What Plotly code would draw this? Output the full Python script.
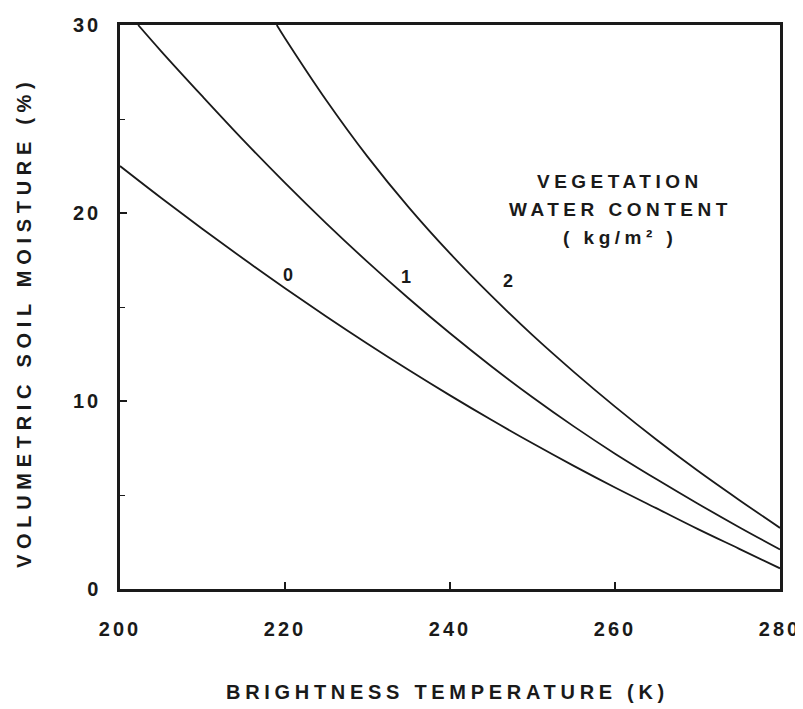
import plotly.graph_objects as go

# Brightness temperature (K) and volumetric soil moisture (%)
t_w0 = [200, 205, 210, 215, 220, 225, 230, 235, 240, 245, 250, 255, 260, 265, 270, 275, 280]
sm_w0 = [22.5, 20.8, 19.15, 17.55, 16.0, 14.5, 13.05, 11.65, 10.3, 9.0, 7.75, 6.55, 5.4, 4.3, 3.2, 2.15, 1.1]

t_w1 = [202.2, 205, 210, 215, 220, 225, 230, 235, 240, 245, 250, 255, 260, 265, 270, 275, 280]
sm_w1 = [30.0, 28.6, 26.2, 23.85, 21.6, 19.45, 17.4, 15.45, 13.6, 11.85, 10.2, 8.65, 7.2, 5.85, 4.55, 3.3, 2.1]

t_w2 = [219.0, 220, 225, 230, 235, 240, 245, 250, 255, 260, 265, 270, 275, 280]
sm_w2 = [30.0, 29.3, 26.0, 23.0, 20.3, 17.85, 15.6, 13.5, 11.55, 9.7, 7.95, 6.3, 4.75, 3.25]

curve_labels = ["0", "1", "2"]
label_t = [220.4, 234.7, 247.0]
label_sm = [16.7, 16.6, 16.4]

x_ticks = [200, 220, 240, 260, 280]
x_tick_text = ["200", "220", "240", "260", "280"]
y_ticks = [0, 10, 20, 30]
y_tick_text = ["0", "10", "20", "30"]

x_title = "BRIGHTNESS TEMPERATURE (K)"
y_title = "VOLUMETRIC SOIL MOISTURE (%)"
legend_lines = ["VEGETATION", "WATER CONTENT", "( kg/m² )"]

FONT = "Liberation Sans, Arial, sans-serif"
INK = "#1a1a1a"

# the page body has an 8px margin, so the figure is drawn 8px in from the corner
OFF = 8
W, H = 803 - OFF, 709 - OFF
ml, mr, mt, mb = 120 - OFF, 23, 25 - OFF, 120
pw, ph = W - ml - mr, H - mt - mb


def spaced(s, px):
    return f'<span style="letter-spacing:{px}px">{s}</span>'


def px_to_paper(x, y):
    # x, y are screenshot pixels
    return (x - OFF - ml) / pw, 1 - (y - OFF - mt) / ph


fig = go.Figure()
for tx, sy in [(t_w0, sm_w0), (t_w1, sm_w1), (t_w2, sm_w2)]:
    fig.add_trace(go.Scatter(
        x=tx, y=sy, mode="lines",
        line=dict(color=INK, width=1.8, shape="spline", smoothing=1.0),
        showlegend=False, hoverinfo="skip",
    ))

for lab, lx, ly in zip(curve_labels, label_t, label_sm):
    fig.add_annotation(x=lx, y=ly, xref="x", yref="y", text=f"<b>{lab}</b>",
                       xanchor="center", yanchor="middle",
                       showarrow=False, font=dict(family=FONT, size=18, color=INK))

for i, line in enumerate(legend_lines):
    px_, py_ = px_to_paper(620, 181 + 28.5 * i)
    fig.add_annotation(x=px_, y=py_, xref="paper", yref="paper",
                       xanchor="center", yanchor="middle",
                       text=f"<b>{spaced(line, 4.5)}</b>", showarrow=False,
                       font=dict(family=FONT, size=19, color=INK))

px_, py_ = px_to_paper(447, 692)
fig.add_annotation(x=px_, y=py_, xref="paper", yref="paper", xanchor="center", yanchor="middle",
                   text=f"<b>{spaced(x_title, 4.7)}</b>", showarrow=False,
                   font=dict(family=FONT, size=20, color=INK))
px_, py_ = px_to_paper(24, 323)
fig.add_annotation(x=px_, y=py_, xref="paper", yref="paper", xanchor="center", yanchor="middle",
                   text=f"<b>{spaced(y_title, 5.7)}</b>", showarrow=False,
                   textangle=-90, font=dict(family=FONT, size=20, color=INK))

fig.update_layout(
    width=W, height=H,
    margin=dict(l=ml, r=mr, t=mt, b=mb, autoexpand=False),
    plot_bgcolor="white", paper_bgcolor="white",
    font=dict(family=FONT, color=INK),
    showlegend=False,
)
fig.update_xaxes(
    range=[200, 280], tickvals=x_ticks,
    ticktext=[f"<b>{spaced(s, 3)}</b>" for s in x_tick_text],
    ticks="inside", ticklen=7, tickwidth=1.5, tickcolor=INK,
    showline=True, linewidth=2.5, linecolor=INK, mirror=True,
    showgrid=False, zeroline=False, automargin=False,
    tickfont=dict(family=FONT, size=20, color=INK),
    ticklabelstandoff=20,
)
fig.update_yaxes(
    range=[0, 30], tickvals=y_ticks,
    ticktext=[f"<b>{spaced(s, 3)}</b>" for s in y_tick_text],
    ticks="inside", ticklen=7, tickwidth=1.5, tickcolor=INK,
    minor=dict(tickvals=[5, 15, 25], ticks="inside", ticklen=5, tickwidth=1.2, tickcolor=INK),
    showline=True, linewidth=2.5, linecolor=INK, mirror=True,
    showgrid=False, zeroline=False, automargin=False,
    tickfont=dict(family=FONT, size=20, color=INK),
    ticklabelstandoff=12,
)

fig.write_html("out.html")
